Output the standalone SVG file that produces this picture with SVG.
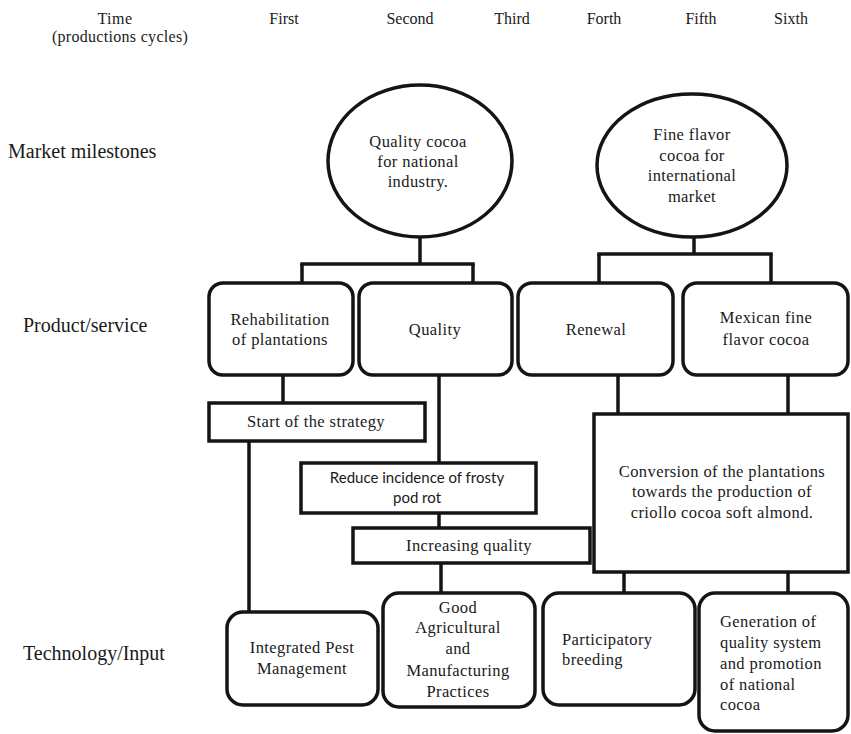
<svg xmlns="http://www.w3.org/2000/svg" width="851" height="734" viewBox="0 0 851 734">
<style>
text{font-family:"Liberation Serif","Times New Roman",serif;fill:#1a1a1a}
.hdr{font-size:16px;text-anchor:middle}
.row{font-size:20px}
.t{font-size:16.5px;text-anchor:middle;letter-spacing:0.4px}
.tl{font-size:16.5px;letter-spacing:0.4px}
.sans{font-family:Lato,"Liberation Sans",sans-serif;font-size:15px;text-anchor:middle}
.shape{fill:#fff;stroke:#141414;stroke-width:3.5}
.conn line{stroke:#141414;stroke-width:3.5}
</style>
<rect width="851" height="734" fill="#fff"/>
<g id="header">
<text class="hdr" x="115" y="23.5" style="letter-spacing:0.5px">Time</text>
<text class="hdr" x="120" y="41.5" style="letter-spacing:0.3px">(productions cycles)</text>
<text class="hdr" x="284" y="23.5">First</text>
<text class="hdr" x="410" y="23.5">Second</text>
<text class="hdr" x="512" y="23.5">Third</text>
<text class="hdr" x="604" y="23.5">Forth</text>
<text class="hdr" x="701" y="23.5">Fifth</text>
<text class="hdr" x="791" y="23.5">Sixth</text>
</g>
<g id="rows">
<text class="row" x="8" y="158">Market milestones</text>
<text class="row" x="23" y="332">Product/service</text>
<text class="row" x="23" y="660">Technology/Input</text>
</g>
<g class="conn" id="connectors">
<line x1="420" y1="237" x2="420" y2="264"/>
<line x1="300.25" y1="264" x2="474.75" y2="264"/>
<line x1="302" y1="264" x2="302" y2="283"/>
<line x1="473" y1="264" x2="473" y2="283"/>
<line x1="694" y1="237" x2="694" y2="254"/>
<line x1="597.25" y1="254" x2="772.75" y2="254"/>
<line x1="599" y1="254" x2="599" y2="283"/>
<line x1="771" y1="254" x2="771" y2="283"/>
<line x1="283" y1="375" x2="283" y2="403"/>
<line x1="439" y1="375" x2="439" y2="463"/>
<line x1="249" y1="441" x2="249" y2="612"/>
<line x1="439" y1="513" x2="439" y2="528"/>
<line x1="441" y1="563" x2="441" y2="593"/>
<line x1="618" y1="375" x2="618" y2="414"/>
<line x1="788" y1="375" x2="788" y2="414"/>
<line x1="624" y1="572" x2="624" y2="593"/>
<line x1="788" y1="572" x2="788" y2="593"/>
</g>
<g id="m1">
<ellipse class="shape" cx="420" cy="161" rx="92" ry="76"/>
<text class="t" x="418" y="147">Quality cocoa</text>
<text class="t" x="418" y="167">for national</text>
<text class="t" x="418" y="187">industry.</text>
</g>
<g id="m2">
<ellipse class="shape" cx="692" cy="165.5" rx="95" ry="71.5"/>
<text class="t" x="692" y="140">Fine flavor</text>
<text class="t" x="692" y="161">cocoa for</text>
<text class="t" x="692" y="181">international</text>
<text class="t" x="692" y="202">market</text>
</g>
<g id="p1">
<rect class="shape" x="209" y="283" width="144" height="92" rx="14"/>
<text class="t" x="280" y="325">Rehabilitation</text>
<text class="t" x="280" y="345">of plantations</text>
</g>
<g id="p2">
<rect class="shape" x="359" y="283" width="153" height="92" rx="14"/>
<text class="t" x="435" y="335">Quality</text>
</g>
<g id="p3">
<rect class="shape" x="518" y="283" width="155" height="92" rx="14"/>
<text class="t" x="596" y="335">Renewal</text>
</g>
<g id="p4">
<rect class="shape" x="683" y="283" width="165" height="92" rx="14"/>
<text class="t" x="766" y="323">Mexican fine</text>
<text class="t" x="766" y="345">flavor cocoa</text>
</g>
<g id="s1">
<rect class="shape" x="209" y="403" width="216" height="38"/>
<text class="t" x="316" y="427">Start of the strategy</text>
</g>
<g id="s2">
<rect class="shape" x="301" y="463" width="235" height="50"/>
<text class="sans" x="417" y="483">Reduce incidence of frosty</text>
<text class="sans" x="417" y="503">pod rot</text>
</g>
<g id="s3">
<rect class="shape" x="353" y="528" width="237" height="35"/>
<text class="t" x="469" y="551">Increasing quality</text>
</g>
<g id="s4">
<rect class="shape" x="594" y="414" width="254" height="158"/>
<text class="t" x="722" y="477">Conversion of the plantations</text>
<text class="t" x="722" y="497">towards the production of</text>
<text class="t" x="722" y="518">criollo  cocoa soft almond.</text>
</g>
<g id="t1">
<rect class="shape" x="227" y="612" width="151" height="93" rx="16"/>
<text class="t" x="302" y="653">Integrated Pest</text>
<text class="t" x="302" y="674">Management</text>
</g>
<g id="t2">
<rect class="shape" x="383" y="593" width="152" height="114" rx="16"/>
<text class="t" x="458" y="613">Good</text>
<text class="t" x="458" y="633">Agricultural</text>
<text class="t" x="458" y="654">and</text>
<text class="t" x="458" y="676">Manufacturing</text>
<text class="t" x="458" y="697">Practices</text>
</g>
<g id="t3">
<rect class="shape" x="543" y="593" width="152" height="112" rx="16"/>
<text class="tl" x="562" y="645">Participatory</text>
<text class="tl" x="562" y="665">breeding</text>
</g>
<g id="t4">
<rect class="shape" x="699" y="593" width="149" height="138" rx="16"/>
<text class="tl" x="720" y="627">Generation of</text>
<text class="tl" x="720" y="648">quality system</text>
<text class="tl" x="720" y="669">and promotion</text>
<text class="tl" x="720" y="690">of national</text>
<text class="tl" x="720" y="710">cocoa</text>
</g>
</svg>
